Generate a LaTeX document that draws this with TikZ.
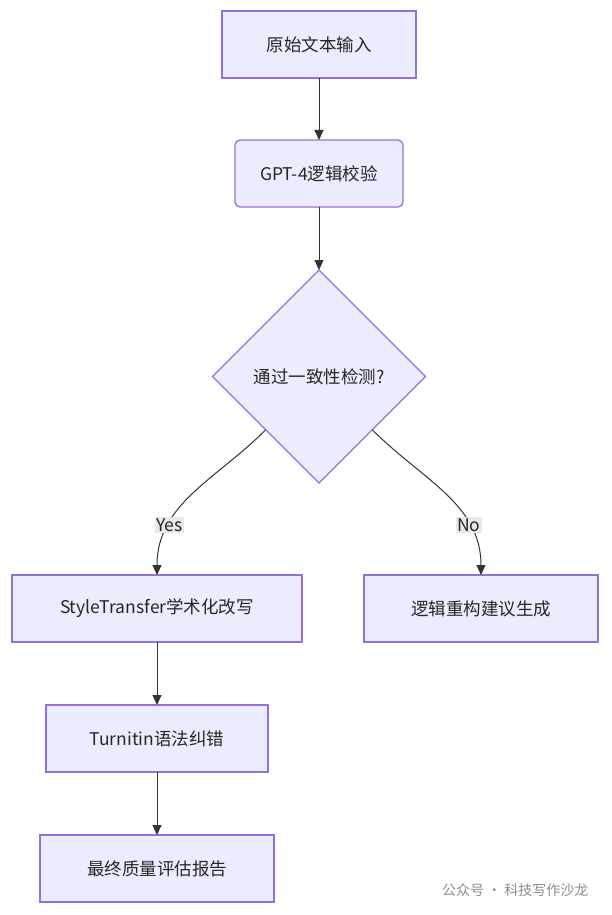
\documentclass[tikz,border=0pt]{standalone}
\usepackage{fontspec}
\setmainfont{Noto Sans CJK SC}
\usetikzlibrary{positioning,shapes.geometric,arrows.meta}
\definecolor{boxfill}{HTML}{ECECFF}
\definecolor{boxline}{HTML}{9370DB}
\definecolor{edgecol}{HTML}{333333}
\definecolor{lblfill}{HTML}{E8E8E8}
\begin{document}
\begin{tikzpicture}[x=1pt, y=1pt, font=\fontsize{17.5}{21}\selectfont]
                \tikzstyle{proc} = [rectangle, draw=boxline, fill=boxfill, line width=1.3pt, minimum height=67pt, text=black!85, inner sep=0pt, outer sep=0pt]
                \tikzstyle{rproc} = [proc, rounded corners=5pt]
                \tikzstyle{check} = [diamond, draw=boxline, fill=boxfill, line width=1.3pt, minimum size=213pt, inner sep=0pt, outer sep=0pt, text=black!85]
                \tikzstyle{arr} = [draw=edgecol, line width=1pt, -{Triangle[length=10pt, width=9pt]}]
                \tikzstyle{lbl} = [fill=lblfill, inner sep=1.5pt, text=black!85]

                \useasboundingbox (0,0) rectangle (611,-915);

                % Main column
                \node[proc, minimum width=194pt] (input) at (319,-44.5) {原始文本输入};
                \node[rproc, minimum width=168pt] (gpt) [below=62pt of input] {GPT-4逻辑校验};
                \node[check] (consist) [below=63pt of gpt] {通过一致性检测?};

                % Yes branch (left column)
                \node[proc, minimum width=290pt] (style) [below=92pt of consist, xshift=-162pt] {StyleTransfer学术化改写};
                \node[proc, minimum width=222pt] (turnitin) [below=63pt of style] {Turnitin语法纠错};
                \node[proc, minimum width=234pt] (report) [below=63pt of turnitin] {最终质量评估报告};

                % No branch (right column)
                \node[proc, minimum width=234pt] (rebuild) [below=92pt of consist, xshift=162pt] {逻辑重构建议生成};

                \draw[arr] (input) -- (gpt);
                \draw[arr] (gpt) -- (consist);
                \draw[arr] (consist.south west) to[out=-135, in=90] node[lbl, pos=0.72] {Yes} (style.north);
                \draw[arr] (consist.south east) to[out=-45, in=90] node[lbl, pos=0.72] {No} (rebuild.north);
                \draw[arr] (style) -- (turnitin);
                \draw[arr] (turnitin) -- (report);

                % Source mark
                \node[text=black!45, font=\fontsize{14}{16}\selectfont, anchor=east] (mark) at (592,-890) {公众号 · 科技写作沙龙};
            \end{tikzpicture}
\end{document}
